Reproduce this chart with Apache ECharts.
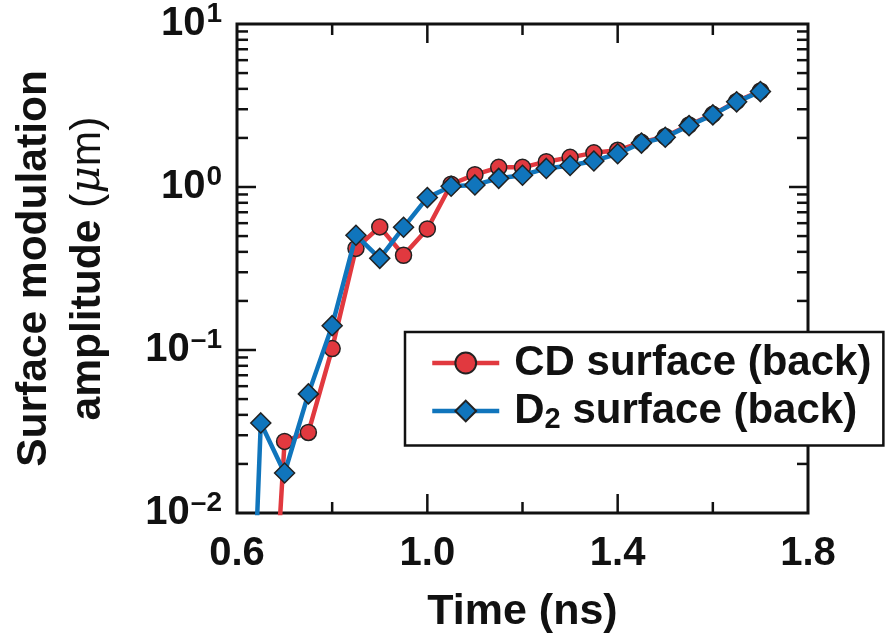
<!DOCTYPE html>
<html><head><meta charset="utf-8">
<script src="https://cdn.jsdelivr.net/npm/echarts@6/dist/echarts.min.js"></script>
<style>html,body{margin:0;padding:0;background:#fff}#c{width:886px;height:639px}</style>
</head><body><div id="c"></div>
<script>
// ---- data ----
const times    = [0.60, 0.65, 0.70, 0.75, 0.80, 0.85, 0.90, 0.95, 1.00, 1.05, 1.10, 1.15, 1.20, 1.25, 1.30, 1.35, 1.40, 1.45, 1.50, 1.55, 1.60, 1.65, 1.70];
const cdValues = [null, 0.0001, 0.0275, 0.0312, 0.102, 0.42, 0.569, 0.381, 0.553, 1.04, 1.19, 1.32, 1.32, 1.43, 1.52, 1.62, 1.68, 1.88, 2.04, 2.40, 2.79, 3.35, 3.88];
const d2Values = [0.000006, 0.0357, 0.0176, 0.0538, 0.141, 0.506, 0.365, 0.566, 0.861, 1.01, 1.03, 1.13, 1.18, 1.30, 1.355, 1.445, 1.60, 1.86, 2.02, 2.38, 2.77, 3.33, 3.85];
const xTickValues  = [0.6, 0.8, 1.0, 1.2, 1.4, 1.6, 1.8];
const xLabelValues = [0.6, 1.0, 1.4, 1.8];
const yDecades     = [-2, -1, 0, 1];
const seriesNames  = ['CD surface (back)', 'D2 surface (back)'];

const FONT = '"Liberation Sans", Arial, Helvetica, sans-serif';
const RED = '#e1393f', BLUE = '#1075bc', INK = '#111';

function toPairs(vals) {
  const out = [];
  times.forEach((t, i) => { if (vals[i] != null) out.push([t, vals[i]]); });
  return out;
}

const chart = echarts.init(document.getElementById('c'), null, {renderer: 'canvas'});

const option = {
  animation: false,
  textStyle: {fontFamily: FONT},
  grid: {left: 237, right: 78, top: 23, bottom: 123, show: true, borderColor: INK, borderWidth: 3, backgroundColor: 'transparent'},
  xAxis: {
    type: 'value', min: 0.6, max: 1.8, interval: 0.2,
    axisLine: {show: false}, axisTick: {show: false}, splitLine: {show: false},
    axisLabel: {
      margin: 21, fontSize: 40, fontWeight: 'bold', color: INK, fontFamily: FONT,
      formatter: v => xLabelValues.some(x => Math.abs(x - v) < 1e-6) ? v.toFixed(1) : ''
    },
    name: 'Time (ns)', nameLocation: 'middle', nameGap: 78,
    nameTextStyle: {fontSize: 43, fontWeight: 'bold', color: INK, fontFamily: FONT}
  },
  yAxis: {
    type: 'log', logBase: 10, min: Math.pow(10, yDecades[0]), max: Math.pow(10, yDecades[yDecades.length - 1]),
    axisLine: {show: false}, axisTick: {show: false}, splitLine: {show: false}, minorTick: {show: false},
    axisLabel: {
      margin: 15, color: INK,
      formatter: v => {
        const e = Math.round(Math.log10(v));
        return '{b|10}{s|' + (e < 0 ? '\u2013' + (-e) : e) + '}';
      },
      rich: {
        b: {fontSize: 40, fontWeight: 'bold', color: INK, fontFamily: FONT},
        s: {fontSize: 28, fontWeight: 'bold', color: INK, fontFamily: FONT, padding: [0, 0, 20, 1]}
      }
    },
    name: '{a|Surface modulation}\n{a|amplitude }{p|(}{mu|\u03bc}{p|m)}',
    nameLocation: 'middle', nameRotate: 90, nameGap: 122,
    nameTextStyle: {
      fontFamily: FONT, color: INK,
      rich: {
        a: {fontSize: 42.5, fontWeight: 'bold', lineHeight: 54, color: INK, fontFamily: FONT},
        p: {fontSize: 42.5, fontWeight: 'normal', lineHeight: 54, color: INK, fontFamily: FONT},
        mu: {fontSize: 42.5, fontStyle: 'italic', fontWeight: 'normal', lineHeight: 54, color: INK, fontFamily: 'DejaVu Serif, serif'}
      }
    }
  },
  legend: {
    orient: 'vertical', left: 405, top: 332,
    backgroundColor: '#fff', borderColor: INK, borderWidth: 2.5,
    padding: [9, 12, 11, 25], itemGap: 4, itemWidth: 67, itemHeight: 26,
    z: 10,
    lineStyle: {width: 4.5},
    data: seriesNames,
    formatter: name => name === 'D2 surface (back)'
      ? '{t0|D}{sub|2}{t| surface (back)}'
      : '{t0|CD}{t| surface (back)}',
    textStyle: {
      fontSize: 42, fontWeight: 'bold', color: INK, fontFamily: FONT, lineHeight: 44,
      rich: {
        t0: {fontSize: 42, fontWeight: 'bold', color: INK, fontFamily: FONT, padding: [0, 0, 0, 10]},
        t: {fontSize: 42, fontWeight: 'bold', color: INK, fontFamily: FONT},
        sub: {fontSize: 29, fontWeight: 'bold', color: INK, fontFamily: FONT, padding: [18, 0, 0, 0]}
      }
    }
  },
  series: [
    {
      type: 'line', name: seriesNames[0], data: toPairs(cdValues), clip: true, z: 2,
      symbol: 'circle', symbolSize: 16,
      lineStyle: {color: RED, width: 4.5},
      itemStyle: {color: RED, borderColor: '#222', borderWidth: 1.5}
    },
    {
      type: 'line', name: seriesNames[1], data: toPairs(d2Values), clip: true, z: 3,
      symbol: 'diamond', symbolSize: 20,
      lineStyle: {color: BLUE, width: 4.5},
      itemStyle: {color: BLUE, borderColor: '#222', borderWidth: 1.5}
    }
  ]
};
chart.setOption(option);

// inward ticks on all four sides, positioned through the axes' scales
const xMin = xTickValues[0], xMax = xTickValues[xTickValues.length - 1];
const yMin = Math.pow(10, yDecades[0]), yMax = Math.pow(10, yDecades[yDecades.length - 1]);
const leftX = chart.convertToPixel({xAxisIndex: 0}, xMin);
const rightX = chart.convertToPixel({xAxisIndex: 0}, xMax);
const bottomY = chart.convertToPixel({yAxisIndex: 0}, yMin);
const topY = chart.convertToPixel({yAxisIndex: 0}, yMax);
const MAJ = 19, MIN = 11;
const tickStyle = {stroke: INK, lineWidth: 2.5};
const g = [];
xTickValues.slice(1, -1).forEach(v => {
  const px = chart.convertToPixel({xAxisIndex: 0}, v);
  const major = xLabelValues.some(x => Math.abs(x - v) < 1e-6);
  const L = major ? MAJ : MIN;
  g.push({type: 'line', shape: {x1: px, y1: bottomY, x2: px, y2: bottomY - L}, style: tickStyle, z: 5});
  g.push({type: 'line', shape: {x1: px, y1: topY, x2: px, y2: topY + L}, style: tickStyle, z: 5});
});
for (let d = yDecades[0]; d < yDecades[yDecades.length - 1]; d++) {
  for (let m = 1; m <= 9; m++) {
    if (d === yDecades[0] && m === 1) continue;
    const v = m * Math.pow(10, d);
    const py = chart.convertToPixel({yAxisIndex: 0}, v);
    const L = m === 1 ? MAJ : MIN;
    g.push({type: 'line', shape: {x1: leftX, y1: py, x2: leftX + L, y2: py}, style: tickStyle, z: 5});
    g.push({type: 'line', shape: {x1: rightX, y1: py, x2: rightX - L, y2: py}, style: tickStyle, z: 5});
  }
}
chart.setOption({graphic: g});
</script>
</body></html>
